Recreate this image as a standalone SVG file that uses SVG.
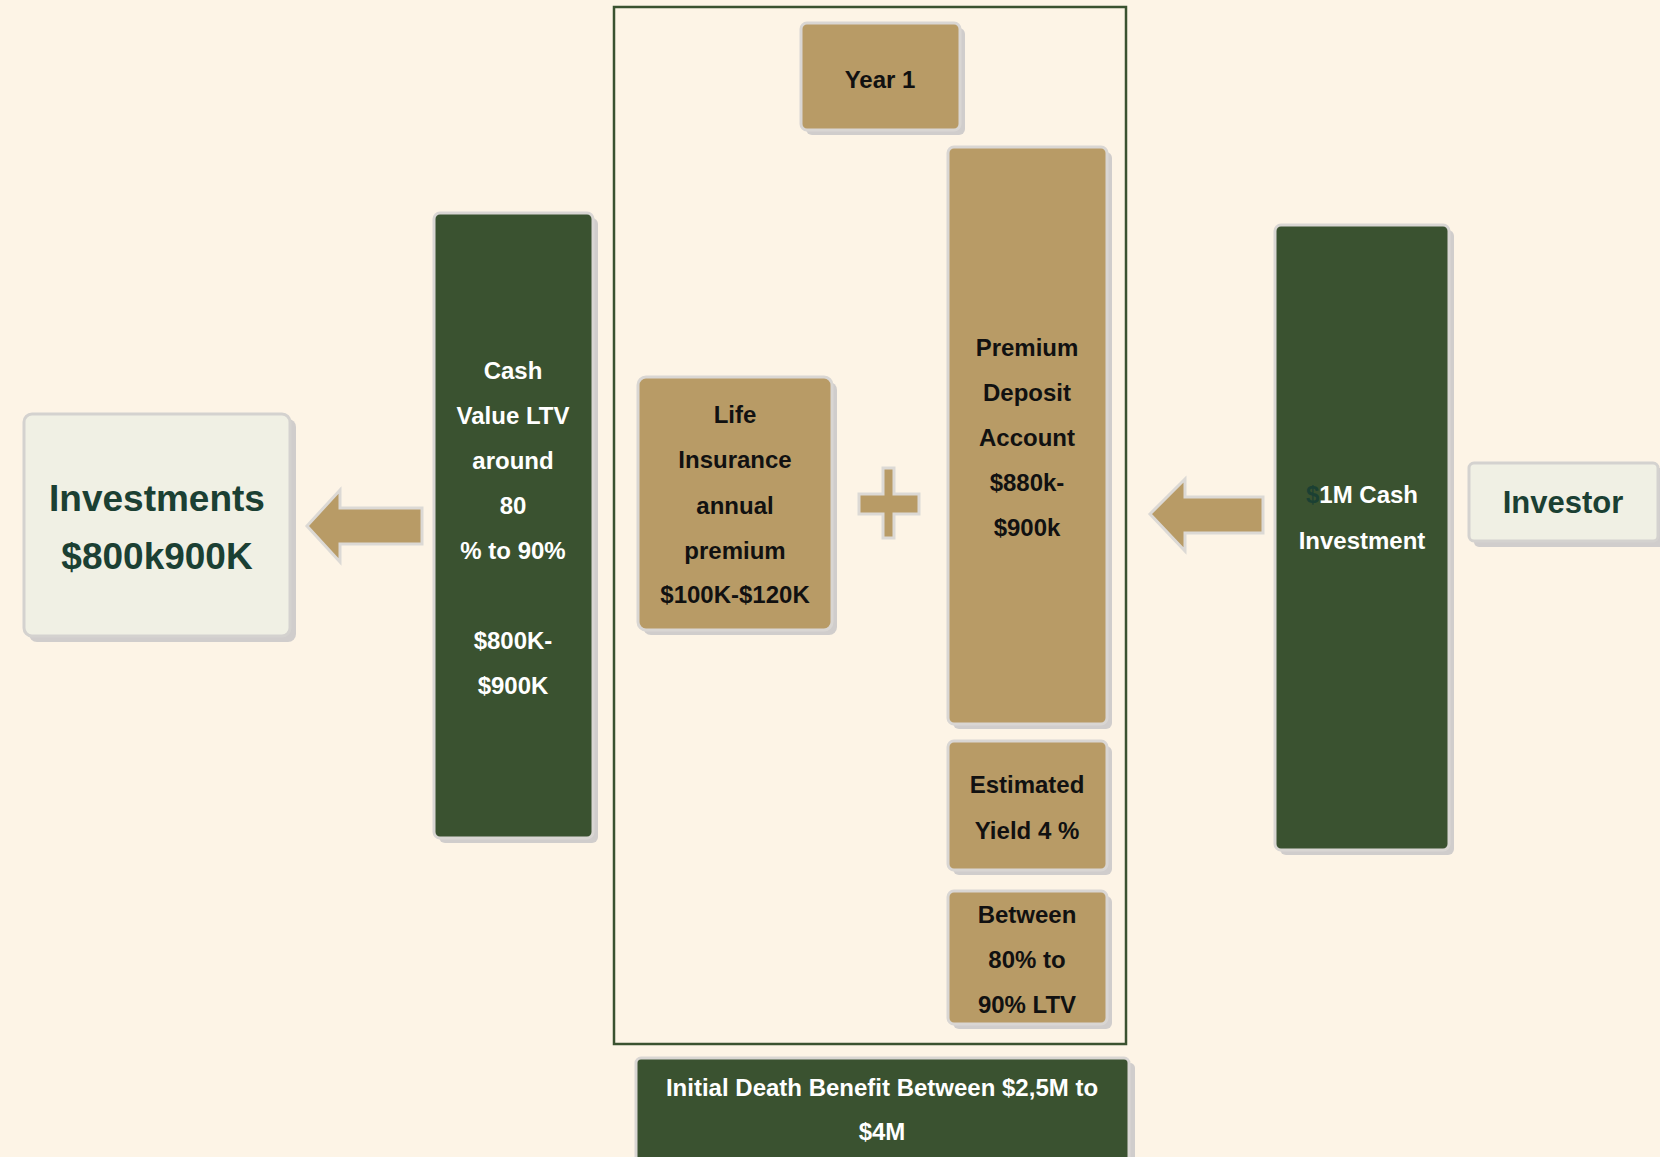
<svg xmlns="http://www.w3.org/2000/svg" width="1660" height="1157" viewBox="0 0 1660 1157">
<style>
.bg{fill:#fdf4e6}
.sh{fill:#d0cdcc}
.tan{fill:#b89b66;stroke:#d9d6d3;stroke-width:3}
.grn{fill:#3a5230;stroke:#d9d6d3;stroke-width:3}
.lt{fill:#f0f0e4;stroke:#d4d2cf;stroke-width:3}
.frame{fill:none;stroke:#3a5230;stroke-width:2.5}
text{font-family:"Liberation Sans",Arial,sans-serif;font-weight:bold;text-anchor:middle}
.tb{font-size:24px;fill:#111}
.tw{font-size:24px;fill:#ffffff}
.tg{fill:#1b4033}
.arr{fill:#b89b66;stroke:#dcd9d5;stroke-width:3}
</style>
<rect class="bg" x="0" y="0" width="1660" height="1157"/>
<rect id="year-frame" class="frame" x="614" y="7" width="512" height="1037"/>

<g id="connectors">
<polygon class="arr" points="307,526 340,490 340,508 422,508 422,544 340,544 340,562"/>
<polygon class="arr" points="1150,514 1185,479 1185,497 1263,497 1263,533 1185,533 1185,551"/>
<polygon class="arr" points="883,468 894,468 894,494 919,494 919,514 894,514 894,538 883,538 883,514 859,514 859,494 883,494"/>
</g>

<g id="investments">
<rect class="sh" x="29" y="419" width="267" height="223" rx="8"/>
<rect class="lt" x="24" y="414" width="266" height="222" rx="8"/>
<text class="tg" x="157" y="511" font-size="37">Investments</text>
<text class="tg" x="157" y="569" font-size="37">$800k900K</text>
</g>

<g id="cash-value">
<rect class="sh" x="439" y="218" width="159" height="625" rx="6"/>
<rect class="grn" x="434" y="213" width="159" height="625" rx="6"/>
<text class="tw" x="513" y="379">Cash</text>
<text class="tw" x="513" y="424">Value LTV</text>
<text class="tw" x="513" y="469">around</text>
<text class="tw" x="513" y="514">80</text>
<text class="tw" x="513" y="559">% to 90%</text>
<text class="tw" x="513" y="649">$800K-</text>
<text class="tw" x="513" y="694">$900K</text>
</g>

<g id="year1">
<rect class="sh" x="806" y="28" width="159" height="107" rx="6"/>
<rect class="tan" x="801" y="23" width="159" height="107" rx="6"/>
<text class="tb" x="880" y="88">Year 1</text>
</g>

<g id="life-insurance">
<rect class="sh" x="643" y="382" width="194" height="253" rx="8"/>
<rect class="tan" x="638" y="377" width="194" height="253" rx="8"/>
<text class="tb" x="735" y="423">Life</text>
<text class="tb" x="735" y="468">Insurance</text>
<text class="tb" x="735" y="514">annual</text>
<text class="tb" x="735" y="559">premium</text>
<text class="tb" x="735" y="603">$100K-$120K</text>
</g>

<g id="premium-deposit">
<rect class="sh" x="953" y="152" width="159" height="577" rx="6"/>
<rect class="tan" x="948" y="147" width="159" height="577" rx="6"/>
<text class="tb" x="1027" y="356">Premium</text>
<text class="tb" x="1027" y="401">Deposit</text>
<text class="tb" x="1027" y="446">Account</text>
<text class="tb" x="1027" y="491">$880k-</text>
<text class="tb" x="1027" y="536">$900k</text>
</g>

<g id="estimated-yield">
<rect class="sh" x="953" y="746" width="159" height="129" rx="6"/>
<rect class="tan" x="948" y="741" width="159" height="129" rx="6"/>
<text class="tb" x="1027" y="793">Estimated</text>
<text class="tb" x="1027" y="839">Yield 4 %</text>
</g>

<g id="ltv">
<rect class="sh" x="953" y="896" width="159" height="133" rx="6"/>
<rect class="tan" x="948" y="891" width="159" height="133" rx="6"/>
<text class="tb" x="1027" y="923">Between</text>
<text class="tb" x="1027" y="968">80% to</text>
<text class="tb" x="1027" y="1013">90% LTV</text>
</g>

<g id="cash-investment">
<rect class="sh" x="1280" y="230" width="174" height="625" rx="6"/>
<rect class="grn" x="1275" y="225" width="174" height="625" rx="6"/>
<text class="tw" x="1362" y="503"><tspan fill="#1b4033">$</tspan>1M Cash</text>
<text class="tw" x="1362" y="549">Investment</text>
</g>

<g id="investor">
<rect class="sh" x="1474" y="468" width="190" height="79" rx="5"/>
<rect class="lt" x="1469" y="463" width="189" height="78" rx="5"/>
<text class="tg" x="1563" y="513" font-size="31">Investor</text>
</g>

<g id="death-benefit">
<rect class="sh" x="641" y="1063" width="494" height="110" rx="5"/>
<rect class="grn" x="636" y="1058" width="493" height="110" rx="5"/>
<text class="tw" x="882" y="1096">Initial Death Benefit Between $2,5M to</text>
<text class="tw" x="882" y="1140">$4M</text>
</g>
</svg>
